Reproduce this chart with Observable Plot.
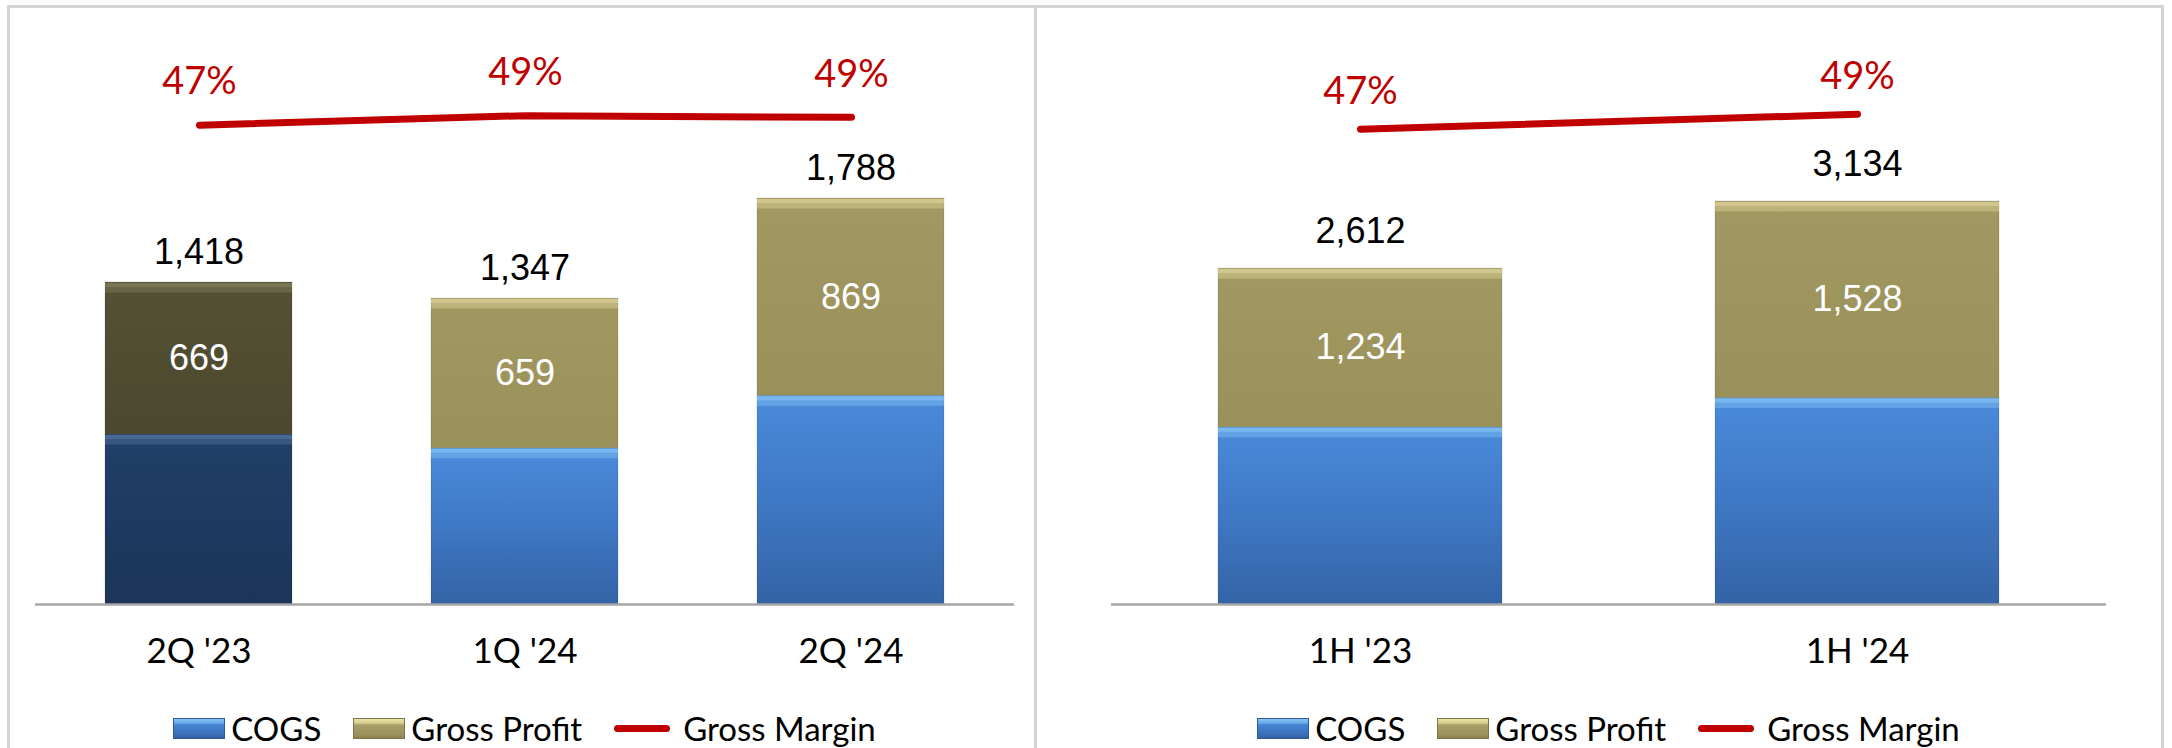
<!DOCTYPE html>
<html><head><meta charset="utf-8">
<script src="https://cdn.jsdelivr.net/npm/d3@7"></script>
<script src="https://cdn.jsdelivr.net/npm/@observablehq/plot@0.6"></script>
<style>
html,body{margin:0;padding:0;background:#fff}
body{width:2172px;height:748px;overflow:hidden;position:relative;font-family:Lato,"Open Sans",sans-serif}
.abs{position:absolute}
.panel{position:absolute;border:3px solid #d4d4d4;border-bottom:none;box-sizing:border-box}
.legend{position:absolute;display:flex;justify-content:center;align-items:center;height:42px;font-family:Lato,sans-serif;font-size:33px;color:#000;white-space:nowrap}
.legend .sw{display:inline-block;width:52px;height:21px;margin-right:6px;box-sizing:border-box}
.legend .sw.cogs{background:linear-gradient(#86c4f6 0,#6aa9ea 22%,#4586d6 30%,#3a70b8 80%,#33609e 100%);border:1px solid #2f5a94}
.legend .sw.gp{background:linear-gradient(#ece3aa 0,#d8cd8e 22%,#a89e66 32%,#9b915b 80%,#8c834f 100%);border:1px solid #7d7547}
.legend .ln{display:inline-block;width:56px;height:7px;border-radius:4px;background:#c00000;margin-right:13px}
.legend .gap{display:inline-block;width:32px}
</style></head><body>
<svg width="0" height="0" style="position:absolute">
  <defs>
    <linearGradient id="gCogs" x1="0" y1="0" x2="0" y2="1">
      <stop offset="0" stop-color="#4a8bdb"/><stop offset="0.5" stop-color="#3f78c4"/><stop offset="1" stop-color="#3463a6"/>
    </linearGradient>
    <linearGradient id="gCogsDark" x1="0" y1="0" x2="0" y2="1">
      <stop offset="0" stop-color="#213f69"/><stop offset="1" stop-color="#1c3558"/>
    </linearGradient>
    <linearGradient id="gGp" x1="0" y1="0" x2="0" y2="1">
      <stop offset="0" stop-color="#a29862"/><stop offset="1" stop-color="#9a905a"/>
    </linearGradient>
    <linearGradient id="gGpDark" x1="0" y1="0" x2="0" y2="1">
      <stop offset="0" stop-color="#555134"/><stop offset="1" stop-color="#4b482e"/>
    </linearGradient>
  </defs>
</svg>
<div class="panel" style="left:7px;top:5px;width:1030px;height:760px"></div>
<div class="panel" style="left:1034px;top:5px;width:1130px;height:760px"></div>
<div id="p1bars" class="abs" style="left:0;top:0;width:1036px"></div>
<div id="p1line" class="abs" style="left:0;top:0;width:1036px"></div>
<div id="p2bars" class="abs" style="left:1036px;top:0;width:1136px"></div>
<div id="p2line" class="abs" style="left:1036px;top:0;width:1136px"></div>
<div id="leg1" class="legend" style="left:35px;width:979px;top:707px"></div>
<div id="leg2" class="legend" style="left:1111px;width:995px;top:707px"></div>
<script>
// ---- data ----
const quarters = ["2Q '23", "1Q '24", "2Q '24"];
const quarterCOGS = [749, 688, 919];
const quarterGrossProfit = [669, 659, 869];
const quarterTotals = [1418, 1347, 1788];
const quarterMargin = [0.472, 0.489, 0.486];
const quarterMarginLabels = ["47%", "49%", "49%"];

const halves = ["1H '23", "1H '24"];
const halfCOGS = [1378, 1606];
const halfGrossProfit = [1234, 1528];
const halfTotals = [2612, 3134];
const halfMargin = [0.472, 0.488];
const halfMarginLabels = ["47%", "49%"];

const highlighted = ["2Q '23"];
const seriesNames = ["COGS", "Gross Profit", "Gross Margin"];

const fmt = d3.format(",");
const numFont = "'Liberation Sans', Arial, sans-serif";
const labFont = "Lato, sans-serif";

function buildPanel(cfg) {
  const rows = [];
  cfg.periods.forEach((p, i) => {
    const hi = highlighted.includes(p);
    rows.push({period: p, series: seriesNames[0], value: cfg.cogs[i],
      fill: hi ? "url(#gCogsDark)" : "url(#gCogs)", bevel: hi ? "#5a7ca8" : "#8ccaf8"});
    rows.push({period: p, series: seriesNames[1], value: cfg.gp[i],
      fill: hi ? "url(#gGpDark)" : "url(#gGp)", bevel: hi ? "#8a8562" : "#e6dca2"});
  });
  const labelRows = cfg.periods.map((p, i) => ({
    period: p, mid: cfg.cogs[i] + cfg.gp[i] / 2, gpText: fmt(cfg.gp[i]),
    total: cfg.totals[i], totalText: fmt(cfg.totals[i])
  }));
  const marginRows = cfg.periods.map((p, i) => ({period: p, margin: cfg.margin[i], label: cfg.marginLabels[i]}));
  const xOpts = {domain: cfg.periods, paddingInner: cfg.pi, paddingOuter: cfg.pi / 2};
  const style = {background: "transparent", overflow: "visible", color: "#000"};

  const bars = Plot.plot({
    width: cfg.width, height: 700,
    marginLeft: cfg.ml, marginRight: cfg.mr, marginTop: cfg.mt, marginBottom: 96,
    x: {...xOpts, label: null},
    y: {domain: [0, cfg.ymax], axis: null},
    color: {type: "identity"},
    style,
    marks: [
      Plot.barY(rows, {x: "period", y: "value", fill: "fill", stroke: "#000", strokeOpacity: 0.12, strokeWidth: 1}),
      Plot.tickY(rows, Plot.stackY2({x: "period", y: "value", stroke: "bevel", strokeWidth: 10, dy: 5, strokeOpacity: 0.4})),
      Plot.tickY(rows, Plot.stackY2({x: "period", y: "value", stroke: "bevel", strokeWidth: 4, dy: 2.5, strokeOpacity: 0.5})),
      Plot.ruleY([0], {stroke: "#a6a6a6", strokeWidth: 2.5}),
      Plot.axisX({tickSize: 0, tickPadding: 34, fontSize: 35, fontFamily: labFont, label: null}),
      Plot.text(labelRows, {x: "period", y: "mid", text: "gpText", fill: "#fff", fontSize: 36, fontFamily: numFont}),
      Plot.text(labelRows, {x: "period", y: "total", text: "totalText", dy: cfg.totalDy, fill: "#000", fontSize: 36, fontFamily: numFont})
    ]
  });

  const line = Plot.plot({
    width: cfg.width, height: 700,
    marginLeft: cfg.ml, marginRight: cfg.mr, marginTop: cfg.lmt, marginBottom: cfg.lmb,
    x: {...xOpts, axis: null},
    y: {domain: cfg.mdomain, axis: null},
    style,
    marks: [
      Plot.line(marginRows, {x: "period", y: "margin", stroke: "#c00000", strokeWidth: 7, strokeLinecap: "round"}),
      Plot.text(marginRows, {x: "period", y: "margin", text: "label", dy: cfg.marginDy, fill: "#c00000", fontSize: 38, fontFamily: labFont})
    ]
  });
  document.getElementById(cfg.barsId).append(bars);
  document.getElementById(cfg.lineId).append(line);

  const leg = document.getElementById(cfg.legId);
  leg.innerHTML =
    `<span class="sw cogs"></span><span>${seriesNames[0]}</span><span class="gap"></span>` +
    `<span class="sw gp"></span><span>${seriesNames[1]}</span><span class="gap"></span>` +
    `<span class="ln"></span><span>${seriesNames[2]}</span>`;
}

buildPanel({
  periods: quarters, cogs: quarterCOGS, gp: quarterGrossProfit, totals: quarterTotals,
  margin: quarterMargin, marginLabels: quarterMarginLabels,
  width: 1036, ml: 35, mr: 22, mt: 59, ymax: 2400, pi: 0.427, totalDy: -30,
  lmt: 109, lmb: 535, mdomain: [0.40, 0.50], marginDy: -43,
  barsId: "p1bars", lineId: "p1line", legId: "leg1"
});
buildPanel({
  periods: halves, cogs: halfCOGS, gp: halfGrossProfit, totals: halfTotals,
  margin: halfMargin, marginLabels: halfMarginLabels,
  width: 1136, ml: 75, mr: 66, mt: 63.9, ymax: 4200, pi: 0.429, totalDy: -37,
  lmt: 102.5, lmb: 550.7, mdomain: [0.45, 0.50], marginDy: -37,
  barsId: "p2bars", lineId: "p2line", legId: "leg2"
});
</script>
</body></html>
